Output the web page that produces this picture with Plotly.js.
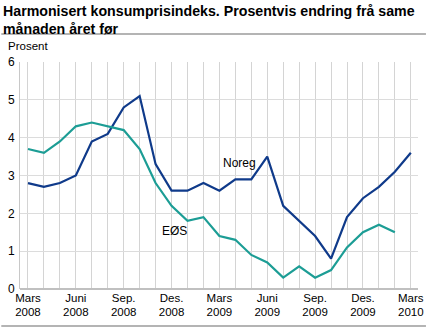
<!DOCTYPE html>
<html><head><meta charset="utf-8">
<script src="https://cdn.plot.ly/plotly-3.0.1.min.js"></script>
<style>body{margin:0;padding:0;background:#fff}#c{width:426px;height:328px}</style>
</head><body><div id="c"></div>
<script>
const months = ["2008-03","2008-04","2008-05","2008-06","2008-07","2008-08","2008-09","2008-10","2008-11","2008-12",
"2009-01","2009-02","2009-03","2009-04","2009-05","2009-06","2009-07","2009-08","2009-09","2009-10","2009-11","2009-12",
"2010-01","2010-02","2010-03"];
const noreg = [2.8,2.7,2.8,3.0,3.9,4.1,4.8,5.1,3.3,2.6,2.6,2.8,2.6,2.9,2.9,3.5,2.2,1.8,1.4,0.8,1.9,2.4,2.7,3.1,3.6];
const eos = [3.7,3.6,3.9,4.3,4.4,4.3,4.2,3.7,2.8,2.2,1.8,1.9,1.4,1.3,0.9,0.7,0.3,0.6,0.3,0.5,1.1,1.5,1.7,1.5];
const tickLabels = ["Mars<br>2008","Juni<br>2008","Sep.<br>2008","Des.<br>2008","Mars<br>2009","Juni<br>2009","Sep.<br>2009","Des.<br>2009","Mars<br>2010"];
const seriesNames = ["Noreg","EØS"];
const titleText = 'Harmonisert konsumprisindeks. Prosentvis endring frå same<br>månaden året før';

const xi = months.map((m,i)=>i);
const tickvals = tickLabels.map((t,i)=>i*3);

const data = [
  {x: xi, y: noreg, type:'scatter', mode:'lines', name:seriesNames[0], line:{color:'#0f3a8a', width:2.2}},
  {x: xi.slice(0, eos.length), y: eos, type:'scatter', mode:'lines', name:seriesNames[1], line:{color:'#1c9d95', width:2.2}}
];
const layout = {
  width:426, height:328,
  margin:{l:20, r:8, t:62, b:39},
  paper_bgcolor:'#fff', plot_bgcolor:'#fff',
  showlegend:false,
  font:{family:'Liberation Sans, Arial, sans-serif', size:11, color:'#000'},
  xaxis:{range:[-0.5,24.45], tickvals:tickvals, ticktext:tickLabels, showgrid:true, gridcolor:'#d4d4d4', gridwidth:1,
    minor:{dtick:1, tick0:0, showgrid:true, gridcolor:'#d4d4d4', gridwidth:1}, zeroline:false, showline:false, ticks:'', tickfont:{size:11.5}, fixedrange:true},
  yaxis:{range:[0,6], dtick:1, showgrid:true, gridcolor:'#dcdcdc', gridwidth:1, zeroline:false, showline:true, linecolor:'#c8c8c8', linewidth:1, ticks:'', tickfont:{size:12}, ticklabelstandoff:2},
  shapes:[
    {type:'line', xref:'paper', yref:'paper', x0:0, x1:1, y0:0, y1:0, line:{color:'#c0c0c0', width:2}},
    {type:'line', xref:'paper', yref:'paper', x0:-0.047, x1:1.02, y0:1.123, y1:1.123, line:{color:'#b4b4b4', width:2}},
    {type:'line', xref:'paper', yref:'paper', x0:-0.047, x1:1.02, y0:-0.163, y1:-0.163, line:{color:'#b4b4b4', width:2}}
  ],
  annotations:[
    {text:'<b>'+titleText+'</b>', xref:'paper', yref:'paper', x:-0.047, y:1.27, xanchor:'left', yanchor:'top', align:'left', showarrow:false, font:{size:14.2}},
    {text:'Prosent', xref:'paper', yref:'paper', x:-0.035, y:1.035, xanchor:'left', yanchor:'bottom', showarrow:false, font:{size:11.5}},
    {text:seriesNames[0], x:12.1, y:3.33, xanchor:'left', yanchor:'middle', showarrow:false, font:{size:12}},
    {text:seriesNames[1], x:8.3, y:1.53, xanchor:'left', yanchor:'middle', showarrow:false, font:{size:12}}
  ]
};
Plotly.newPlot('c', data, layout, {displayModeBar:false, staticPlot:true});
</script></body></html>
